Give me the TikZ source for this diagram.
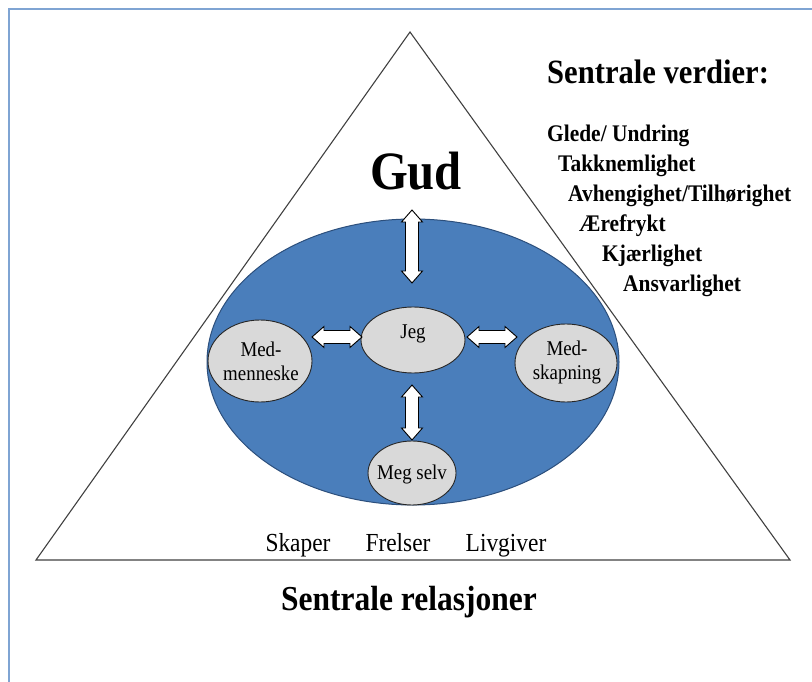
\documentclass[tikz,border=0pt]{standalone}
\usepackage{fontspec}
\setmainfont{Liberation Serif}[FakeStretch=0.9]
\usetikzlibrary{shapes.geometric}
\definecolor{frameblue}{HTML}{7FA4D3}
\definecolor{ovalblue}{HTML}{4A7EBB}
\definecolor{ovaledge}{HTML}{2C4F7C}
\definecolor{greyfill}{HTML}{D9D9D9}
\definecolor{lineg}{HTML}{404040}
\tikzset{
  x=1pt, y=-1pt,
  smallov/.style={draw=black!85, line width=0.9pt, fill=greyfill},
  arrowbox/.style={draw=black, line width=0.9pt, fill=white, line join=miter},
  valtxt/.style={anchor=base west, inner sep=0pt, font=\fontsize{23.8}{27}\selectfont\bfseries},
  inner/.style={align=center, inner sep=0pt, font=\fontsize{21}{24}\selectfont},
  pics/dbarrow/.style={code={
    \draw[arrowbox] (-#1,0) -- (-#1+12,-10.5) -- (-#1+12,-6.5) -- (#1-12,-6.5) -- (#1-12,-10.5) -- (#1,0)
      -- (#1-12,10.5) -- (#1-12,6.5) -- (-#1+12,6.5) -- (-#1+12,10.5) -- cycle;
  }}
}
\begin{document}
\begin{tikzpicture}
\useasboundingbox (0,0) rectangle (812,682);
% frame
\draw[frameblue, line width=1.2pt] (9,682) -- (9,9) -- (812,9);
% triangle
\coordinate (apex) at (410,32);
\coordinate (bl) at (36,560);
\coordinate (br) at (790,560);
\draw[lineg, line width=1.1pt, line join=miter] (apex) -- (bl) -- (br) -- cycle;
% big oval
\node[ellipse, draw=ovaledge, line width=1pt, fill=ovalblue, minimum width=412, minimum height=286, inner sep=0pt] (oval) at (413,362) {};
% small ovals
\node[smallov, ellipse, minimum width=104, minimum height=66, inner sep=0pt] (jeg) at (413,340) {};
\node[smallov, ellipse, minimum width=104, minimum height=82, inner sep=0pt] (medm) at (260,361) {};
\node[smallov, ellipse, minimum width=102, minimum height=78, inner sep=0pt] (meds) at (566,363) {};
\node[smallov, ellipse, minimum width=88, minimum height=64, inner sep=0pt] (megs) at (412,473) {};
\node[inner] at (413,334) {Jeg};
\node[inner] at (261,361) {Med-\\menneske};
\node[inner] at (567,362) {Med-\\skapning};
\node[inner] at (412,474) {Meg selv};
% block arrows
\pic[rotate=90] at (412,246.5) {dbarrow=36.5};
\pic at (337,337) {dbarrow=25};
\pic at (492,337) {dbarrow=25};
\pic[rotate=90] at (412,412.5) {dbarrow=27.5};
% texts
\node[anchor=base, inner sep=0pt, font=\fontsize{54}{60}\selectfont\bfseries] (gud) at (416,190) {Gud};
\node[anchor=base west, inner sep=0pt, font=\fontsize{34}{38}\selectfont\bfseries] (sv) at (547,84) {Sentrale verdier:};
\node[valtxt] (v1) at (547,141.5) {Glede/ Undring};
\node[valtxt] (v2) at (558,171.5) {Takknemlighet};
\node[valtxt] (v3) at (568,201.5) {Avhengighet/Tilhørighet};
\node[valtxt] (v4) at (579,231.5) {Ærefrykt};
\node[valtxt] (v5) at (602,261.5) {Kjærlighet};
\node[valtxt] (v6) at (623,291.5) {Ansvarlighet};
\node[anchor=base, inner sep=0pt, font=\fontsize{26}{30}\selectfont] (sk) at (298,551) {Skaper};
\node[anchor=base, inner sep=0pt, font=\fontsize{26}{30}\selectfont] (fr) at (398,551) {Frelser};
\node[anchor=base, inner sep=0pt, font=\fontsize{26}{30}\selectfont] (lv) at (506,551) {Livgiver};
\node[anchor=base, inner sep=0pt, font=\fontsize{35}{40}\selectfont\bfseries] (sr) at (409,610) {Sentrale relasjoner};
\end{tikzpicture}
\end{document}
